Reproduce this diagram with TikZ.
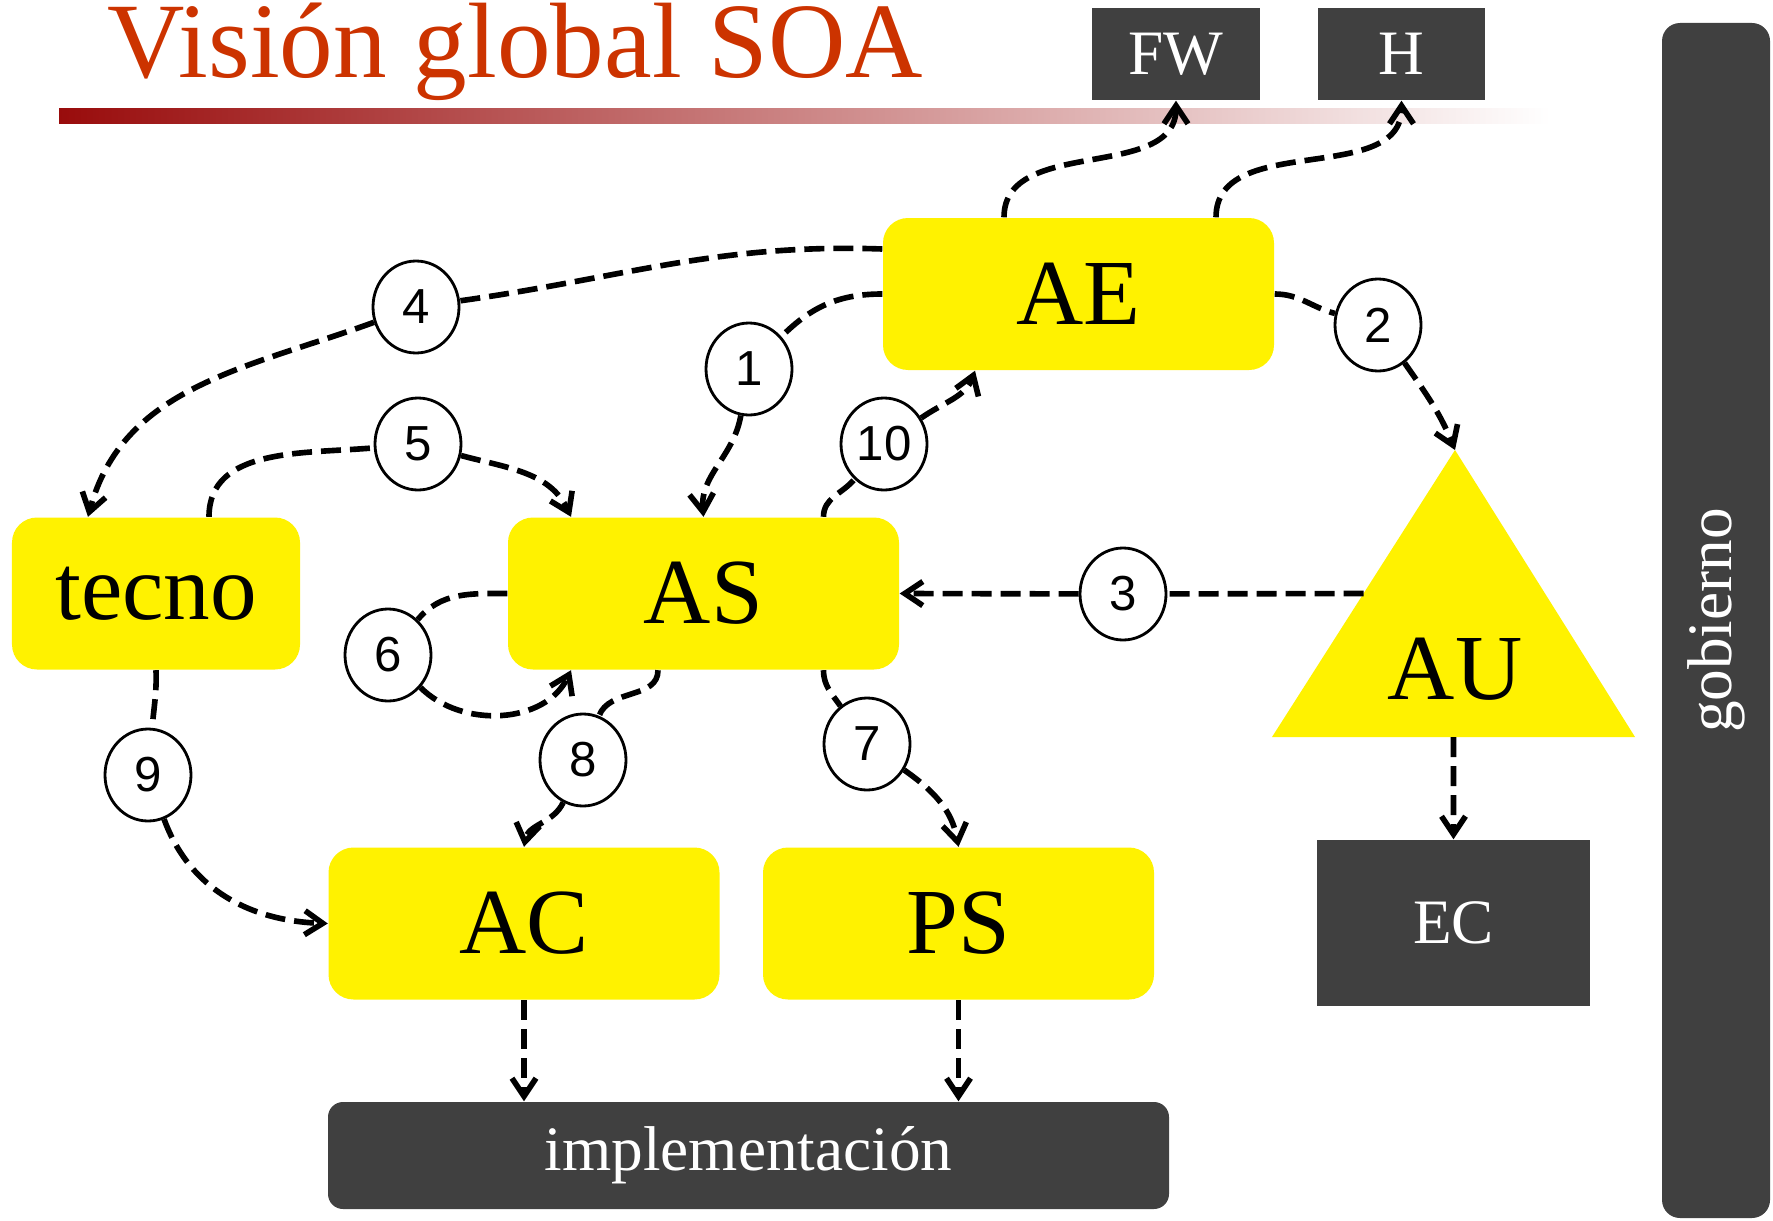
\documentclass[tikz,border=0pt]{standalone}
\usepackage{fontspec}
\setmainfont{Liberation Serif}
\newfontfamily\cifras{Liberation Sans}
\usetikzlibrary{arrows.meta,shapes.geometric,calc}
\definecolor{oscuro}{HTML}{404040}
\definecolor{titulorojo}{HTML}{CC3300}
\definecolor{barrarojo}{HTML}{990C0C}

\begin{document}
\begin{tikzpicture}[
caja/.style={rectangle, rounded corners=2.5mm, fill=yellow, inner sep=0pt, minimum width=3.91cm, minimum height=1.52cm, font=\fontsize{26.5}{26.5}\selectfont},
cajaoscura/.style={rectangle, fill=oscuro, text=white, inner sep=0pt, font=\fontsize{18}{18}\selectfont},
numero/.style={ellipse, draw, line width=0.8pt, fill=white, minimum width=8.6mm, minimum height=9.2mm, inner sep=0pt, font=\cifras\fontsize{14}{14}\selectfont},
flecha/.style={line width=1.6pt, dash pattern=on 2mm off 0.9mm, -{Straight Barb[length=1.8mm,width=2.4mm]}},
]

\useasboundingbox (0,0) rectangle (17.73,12.20);

\node[anchor=base west, inner sep=0pt, text=titulorojo, font=\fontsize{30.5}{30.5}\selectfont] (titulo) at (1.07,11.42) {Visión global SOA};
\shade[left color=barrarojo, right color=white] (0.59,10.96) rectangle (15.5,11.11);

\node[cajaoscura, minimum width=1.68cm, minimum height=0.92cm] (FW) at (11.76,11.66) {FW};
\node[cajaoscura, minimum width=1.67cm, minimum height=0.92cm] (H) at (14.015,11.66) {H};
\node[cajaoscura, minimum width=2.73cm, minimum height=1.66cm] (EC) at (14.535,2.97) {EC};
\node[cajaoscura, rounded corners=1.5mm, minimum width=8.41cm, minimum height=1.07cm] (impl) at (7.485,0.645) {implementación};
\node[cajaoscura, rounded corners=1.8mm, rotate=90, minimum width=11.95cm, minimum height=1.08cm] (gob) at (17.16,5.995) {gobierno};

\node[caja] (AE) at (10.785,9.26) {AE};
\node[caja] (AS) at (7.035,6.265) {AS};
\node[caja, minimum width=2.88cm] (tecno) at (1.56,6.265) {tecno};
\node[caja] (AC) at (5.24,2.965) {AC};
\node[caja] (PS) at (9.585,2.965) {PS};

%triangulo AU
\coordinate (AUpunta) at (14.55,7.70);
\coordinate (AUizq) at (12.72,4.83);
\coordinate (AUder) at (16.35,4.83);
\fill[yellow] (AUpunta) -- (AUizq) -- (AUder) -- cycle;
\node[font=\fontsize{26.5}{26.5}\selectfont] (AU) at (14.55,5.51) {AU};

\foreach \nr/\x/\y in {1/7.49/8.51, 2/13.78/8.95, 3/11.23/6.26, 4/4.16/9.13, 5/4.18/7.76, 6/3.88/5.65, 7/8.67/4.76, 8/5.83/4.60, 9/1.48/4.45, 10/8.84/7.76} {\node[numero] (n\nr) at (\x,\y) {\nr}; }

\draw[flecha] ([xshift=-7.45mm]AE.north) to[out=90,in=-90] (FW.south);
\draw[flecha] ([xshift=13.75mm]AE.north) to[out=90,in=-90] (H.south);

\draw[flecha] (AE.west) to[out=180,in=45] (n1) to[out=-100,in=95] (AS.north);
\draw[flecha] (AE.east) to[out=0,in=165] (n2) to[out=-55,in=112] (AUpunta);
\draw[flecha] ($(AUpunta)!0.5!(AUizq)$) -- (n3) -- (AS.east);
\draw[flecha] ([yshift=4.5mm]AE.west) to[out=178,in=8] (n4) to[out=200,in=75] ([xshift=-6.8mm]tecno.north);
\draw[flecha] ([xshift=5.3mm]tecno.north) to[out=90,in=185] (n5) to[out=-15,in=115] ([xshift=-13.25mm]AS.north);
\draw[flecha] (AS.west) to[out=180,in=50] (n6) to[out=-45,in=-115] ([xshift=-13.25mm]AS.south);
\draw[flecha] ([xshift=12mm]AS.south) to[out=-90,in=125] (n7) to[out=-35,in=100] (PS.north);
\draw[flecha] ([xshift=-4.55mm]AS.south) to[out=-90,in=70] (n8) to[out=-115,in=80] (AC.north);
\draw[flecha] (tecno.south) to[out=-88,in=85] (n9) to[out=-70,in=178] (AC.west);
\draw[flecha] ([xshift=12mm]AS.north) to[out=90,in=-130] (n10) to[out=35,in=-110] ([xshift=-10.35mm]AE.south);

\draw[flecha] ($(AUizq)!0.5!(AUder)$) -- (EC.north);
\draw[flecha] (AC.south) -- (AC.south |- impl.north);
\draw[flecha] (PS.south) -- (PS.south |- impl.north);

\end{tikzpicture}
\end{document}
